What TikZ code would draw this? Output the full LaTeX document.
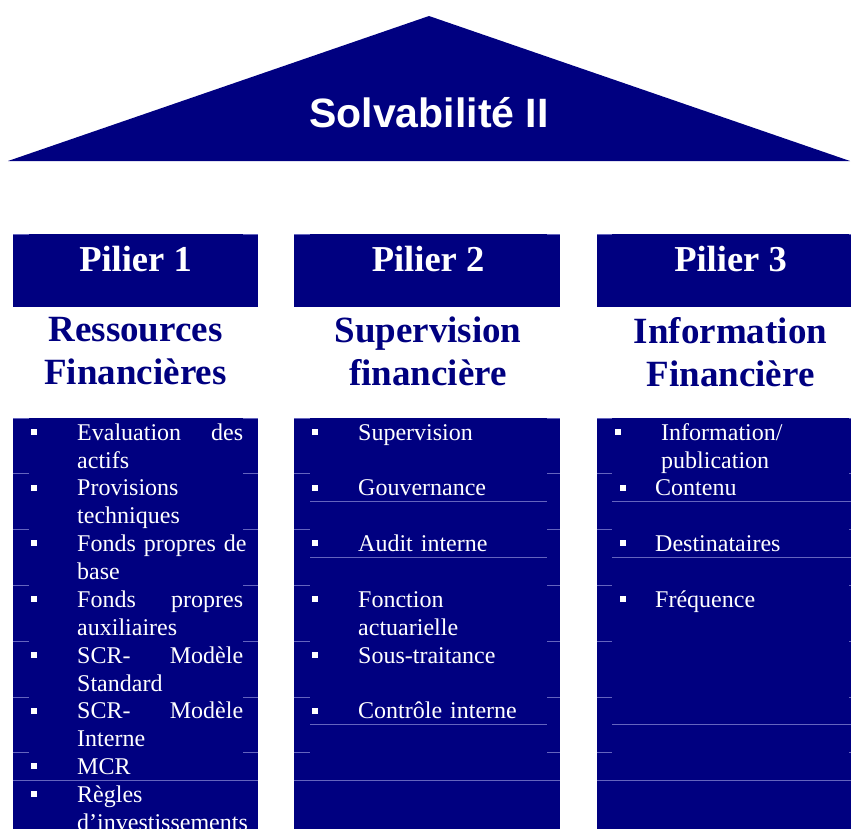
\documentclass[tikz,border=0pt]{standalone}
\usepackage{fontspec}
\setmainfont{Liberation Serif}
\newfontfamily\roofsans{Liberation Sans}
\usetikzlibrary{positioning}
\definecolor{pillarnavy}{RGB}{0,0,128}
\definecolor{rulelight}{RGB}{100,100,190}

\begin{document}
\begin{tikzpicture}[x=1pt,y=-1pt,
  head/.style={font=\fontsize{36.5}{40}\selectfont\bfseries,text=white,anchor=base,inner sep=0},
  title/.style={font=\fontsize{37}{43}\selectfont\bfseries,text=pillarnavy,align=center,
                anchor=north,inner sep=0,execute at begin node=\strut},
  item/.style={font=\fontsize{24}{28}\selectfont,text=white,anchor=north west,inner sep=0,
               align=left,text width=166pt,execute at begin node=\strut},
  wide/.style={text width=200pt},
  rule/.style={rulelight,line width=0.6pt}]
  \clip (0,0) rectangle (851,828);

  % roof
  \fill[pillarnavy] (8,161) -- (429,16) -- (850,161) -- cycle;
  \node[font=\roofsans\fontsize{41}{44}\selectfont\bfseries,text=white,anchor=base,inner sep=0]
    (solv) at (429,127.5) {Solvabilité II};

  % the three pillars: head and body
  \fill[pillarnavy] (13,234) rectangle (258,307);
  \fill[pillarnavy] (294,234) rectangle (560,307);
  \fill[pillarnavy] (597,234) rectangle (864,307);
  \fill[pillarnavy] (13,418) rectangle (258,840);
  \fill[pillarnavy] (294,418) rectangle (560,840);
  \fill[pillarnavy] (597,418) rectangle (864,840);

  % cell borders
  \foreach \y in {234,418,473.5,529,585,641,697,752}{
    \draw[rule] (13,\y) -- (29,\y) (243,\y) -- (258,\y);
    \draw[rule] (294,\y) -- (310,\y) (547,\y) -- (560,\y);
    \draw[rule] (597,\y) -- (612,\y) (849,\y) -- (864,\y);
  }
  \foreach \y in {501,557,724}{
    \draw[rule] (310,\y) -- (547,\y);
    \draw[rule] (612,\y) -- (851,\y);
  }
  \draw[rule] (13,780) -- (258,780) (294,780) -- (560,780) (597,780) -- (864,780);

  \node[head] (pil1) at (135.5,271) {Pilier 1};
  \node[head] (pil2) at (428,271) {Pilier 2};
  \node[head] (pil3) at (730.5,271) {Pilier 3};

  \node[title] (ress) at (135.5,317) {Ressources\\Financières};
  \node[title] (super) at (428,317) {Supervision\\financière};
  \node[title] (infor) at (730.5,317) {Information\\Financière};

  % bullets
  \foreach \y in {440,495.7,551.4,607.1,662.8,718.5,774.2,802}
    \fill[white] (31,\y-11) rectangle ++(6,6);
  \foreach \y in {440,495.7,551.4,607.1,662.8,718.5}
    \fill[white] (312,\y-11) rectangle ++(6,6);
  \fill[white] (615,429) rectangle ++(6,6);
  \foreach \y in {495.7,551.4,607.1}
    \fill[white] (620,\y-11) rectangle ++(6,6);

  % pilier 1
  \node[item] (eval) at (77,420.4) {Evaluation\hfill des\\actifs};
  \node[item] (prov) at (77,476.1) {Provisions\\techniques};
  \node[item] (fpb) at (77,531.8) {\mbox{Fonds propres de}\\base};
  \node[item] (fpa) at (77,587.5) {Fonds\hfill propres\\auxiliaires};
  \node[item] (scrs) at (77,643.2) {SCR-\hfill Modèle\\Standard};
  \node[item] (scri) at (77,698.9) {SCR-\hfill Modèle\\Interne};
  \node[item] (mcr) at (77,754.6) {MCR};
  \node[item] (regl) at (77,782.6) {Règles\\d’investissements};

  % pilier 2
  \node[item,wide] (supv) at (358,420.4) {Supervision};
  \node[item,wide] (gouv) at (358,476.1) {Gouvernance};
  \node[item,wide] (audit) at (358,531.8) {Audit interne};
  \node[item,wide] (fonc) at (358,587.5) {Fonction\\actuarielle};
  \node[item,wide] (sous) at (358,643.2) {Sous-traitance};
  \node[item,wide] (ctrl) at (358,698.9) {Contrôle interne};

  % pilier 3
  \node[item,wide] (publ) at (661,420.4) {Information/\\publication};
  \node[item,wide] (cont) at (655,476.1) {Contenu};
  \node[item,wide] (dest) at (655,531.8) {Destinataires};
  \node[item,wide] (freq) at (655,587.5) {Fréquence};
\end{tikzpicture}
\end{document}
